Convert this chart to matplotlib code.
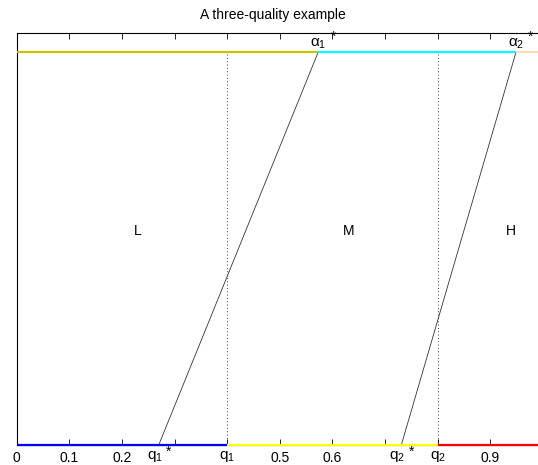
import matplotlib
matplotlib.use("Agg")
from matplotlib import pyplot as plt

plt.rcParams['font.family'] = ['Liberation Sans', 'DejaVu Sans']
plt.rcParams['mathtext.fontset'] = 'custom'
plt.rcParams['mathtext.rm'] = 'Liberation Sans'
plt.rcParams['mathtext.it'] = 'Liberation Sans:italic'
plt.rcParams['mathtext.default'] = 'regular'

# thresholds on the quality axis
q_thresh = [0.4, 0.8]
q_star = [0.27, 0.731]
alpha_star = [0.573, 0.949]

# coloured segments along bottom (y=0) and top (y=1)
bottom_breaks = [0, 0.4, 0.8, 1]
bottom_colors = ['#0000ff', '#ffff00', '#ff0000']
top_breaks = [0, 0.573, 0.949, 1]
top_colors = ['#c4c400', '#00ffff', '#f5deb3']

regions = ['L', 'M', 'H']
region_x = [0.23, 0.63, 0.94]
region_y = 0.545

xticks = [0, 0.1, 0.2, 0.3, 0.4, 0.5, 0.6, 0.7, 0.8, 0.9, 1]
xticklabels = ['0', '0.1', '0.2', '', '', '0.5', '0.6', '', '', '0.9', '1']
q_labels = ['$q_1$', '$q_2$']
alpha_labels = [r'$\alpha_1$', r'$\alpha_2$']

fig = plt.figure(figsize=(5.38, 4.65), dpi=100)
ax = fig.add_axes([0.031, 0.043, 0.978, 0.887])

for i in range(3):
    ax.plot(bottom_breaks[i:i + 2], [0, 0], color=bottom_colors[i], lw=1.6,
            solid_capstyle='butt', clip_on=False, zorder=3)
    ax.plot(top_breaks[i:i + 2], [1, 1], color=top_colors[i], lw=1.6,
            solid_capstyle='butt', zorder=3)

for q in q_thresh:
    ax.plot([q, q], [0, 1], color='black', lw=0.6, ls=(0, (1, 3)))

for qs, a in zip(q_star, alpha_star):
    ax.plot([qs, a], [0, 1], color='#333333', lw=0.6)

for lab, x in zip(regions, region_x):
    ax.text(x, region_y, lab, ha='center', va='center', fontsize=10)

# alpha* labels above the top line, star set off to the right (tex style)
for lab, x in zip(alpha_labels, alpha_star):
    ax.annotate(lab, xy=(x, 1), xytext=(0, 6), textcoords='offset pixels',
                ha='center', va='baseline', fontsize=11)
    ax.annotate('*', xy=(x, 1), xytext=(15, 15), textcoords='offset pixels',
                ha='center', va='center', fontsize=10)

# q labels under the axis
trans = ax.get_xaxis_transform()
for lab, x in zip(q_labels, q_star):
    ax.annotate(lab, xy=(x, 0), xycoords=trans, xytext=(-4, -14),
                textcoords='offset pixels', ha='center', va='baseline',
                fontsize=11, annotation_clip=False)
    ax.annotate('*', xy=(x, 0), xycoords=trans, xytext=(10, -7),
                textcoords='offset pixels', ha='center', va='center',
                fontsize=10, annotation_clip=False)
for lab, x in zip(q_labels, q_thresh):
    ax.annotate(lab, xy=(x, 0), xycoords=trans, xytext=(0, -14),
                textcoords='offset pixels', ha='center', va='baseline',
                fontsize=11, annotation_clip=False)

ax.set_xlim(0, 1)
ax.set_ylim(0, 1.05)
ax.set_xticks(xticks)
ax.set_xticklabels(xticklabels, fontsize=10)
ax.set_yticks([])
ax.tick_params(axis='x', direction='in', length=4, width=0.6, top=True, pad=4)
for s in ax.spines.values():
    s.set_linewidth(0.8)

ax.set_title('A three-quality example', fontsize=10, pad=10, x=0.487)

plt.savefig('out.png', dpi=100)
plt.close()
